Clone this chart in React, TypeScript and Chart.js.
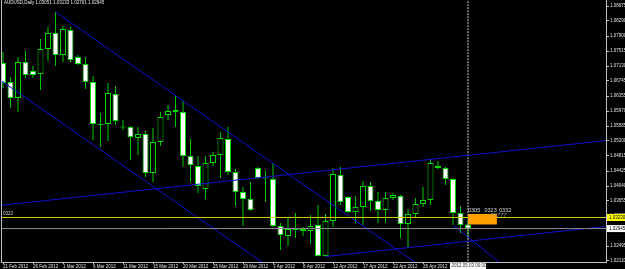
import React, { useEffect, useRef } from 'react';
import { Chart, registerables } from 'chart.js';

Chart.register(...registerables);

// ---------- data ----------
const titleText = 'AUDUSD,Daily 1.03051 1.03133 1.02701 1.02945';

const opens = [1.07208, 1.06718, 1.06306, 1.07233, 1.07002, 1.06924, 1.07568, 1.07980, 1.07413, 1.08057,
  1.07362, 1.07182, 1.06718, 1.05637, 1.05637, 1.06409, 1.05573, 1.05560, 1.05277, 1.05380,
  1.04376, 1.05174, 1.05869, 1.05997, 1.05946, 1.04813, 1.04556, 1.03964, 1.04633, 1.04839,
  1.05251, 1.04401, 1.03886, 1.03706, 1.04504, 1.04260, 1.04221, 1.03011, 1.02754, 1.02908,
  1.02934, 1.02882, 1.03037, 1.02239, 1.03140, 1.04324, 1.03758, 1.03372, 1.03500, 1.04041,
  1.03655, 1.03423, 1.03732, 1.03783, 1.03063, 1.03320, 1.03577, 1.03680, 1.04556, 1.04504,
  1.04221, 1.03346, 1.03051];
const highs = [1.07491, 1.06847, 1.07362, 1.07516, 1.07130, 1.07825, 1.08134, 1.08521, 1.08160, 1.08134,
  1.07413, 1.07362, 1.06873, 1.05920, 1.06693, 1.06615, 1.05740, 1.05586, 1.05560, 1.05457,
  1.05534, 1.05946, 1.06126, 1.06358, 1.06229, 1.05251, 1.04813, 1.04813, 1.04916, 1.05431,
  1.05560, 1.04479, 1.04015, 1.04144, 1.04530, 1.04427, 1.04633, 1.03088, 1.03217, 1.03346,
  1.02985, 1.03294, 1.03552, 1.03320, 1.04504, 1.04530, 1.03783, 1.03783, 1.04170, 1.04144,
  1.03886, 1.03886, 1.03861, 1.03809, 1.03449, 1.03732, 1.04015, 1.04736, 1.04685, 1.04530,
  1.04247, 1.03526, 1.03133];
const lows = [1.06564, 1.06049, 1.05946, 1.06821, 1.06821, 1.06512, 1.07259, 1.07130, 1.07233, 1.07233,
  1.07156, 1.06538, 1.05225, 1.05045, 1.05199, 1.05611, 1.05483, 1.04710, 1.04839, 1.04273,
  1.04144, 1.05071, 1.05740, 1.05560, 1.04530, 1.04144, 1.03861, 1.03706, 1.04556, 1.04247,
  1.04324, 1.03526, 1.03011, 1.03397, 1.04221, 1.03629, 1.02985, 1.02393, 1.02496, 1.02702,
  1.02754, 1.02548, 1.02226, 1.02226, 1.02985, 1.03552, 1.03346, 1.03088, 1.03037, 1.03397,
  1.03088, 1.03088, 1.03680, 1.02702, 1.02445, 1.03217, 1.03500, 1.03552, 1.04479, 1.04067,
  1.03037, 1.02831, 1.02701];
const closes = [1.06693, 1.06306, 1.07233, 1.06899, 1.06899, 1.07568, 1.07980, 1.07413, 1.08083, 1.07285,
  1.07182, 1.06718, 1.05637, 1.05611, 1.06435, 1.05714, 1.05547, 1.05302, 1.05380, 1.04376,
  1.05174, 1.05817, 1.05972, 1.05946, 1.04813, 1.04582, 1.04041, 1.04633, 1.04839, 1.05277,
  1.04401, 1.03886, 1.03706, 1.03423, 1.04247, 1.04234, 1.03011, 1.02779, 1.02934, 1.02960,
  1.02882, 1.03011, 1.02239, 1.03140, 1.04350, 1.03629, 1.03372, 1.03500, 1.04041, 1.03655,
  1.03423, 1.03732, 1.03809, 1.03063, 1.03320, 1.03577, 1.03680, 1.04633, 1.04504, 1.04221,
  1.03346, 1.03037, 1.02945];

const dateTickIndex = [0, 4, 8, 12, 16, 20, 24, 28, 32, 36, 40, 44, 48, 52, 56];
const dateTickLabels = ['21 Feb 2012', '26 Feb 2012', '1 Mar 2012', '6 Mar 2012', '11 Mar 2012', '15 Mar 2012',
  '20 Mar 2012', '25 Mar 2012', '29 Mar 2012', '3 Apr 2012', '8 Apr 2012', '12 Apr 2012', '17 Apr 2012',
  '22 Apr 2012', '26 Apr 2012'];
const priceTicks = [1.08675, 1.08290, 1.07900, 1.07515, 1.07130, 1.06745, 1.06355, 1.05970, 1.05585,
  1.05200, 1.04815, 1.04425, 1.04040, 1.03655, 1.03270, 1.02880, 1.02495, 1.02110];

const xMin = -0.2667;
const xMax = 80.4;
const yMin = 1.02084;
const yMax = 1.0883;

// trend lines (bar index, price)
const downChannelUpper = [{ x: 7, y: 1.08521 }, { x: 60, y: 1.01397 }];
const downChannelLower = [{ x: -2, y: 1.06987 }, { x: 40, y: 1.01343 }];
const upChannelUpper = [{ x: -2, y: 1.03508 }, { x: 84, y: 1.05284 }];
const upChannelLower = [{ x: 43, y: 1.02226 }, { x: 84, y: 1.03075 }];
const shortDownLine = [{ x: 60, y: 1.03037 }, { x: 68, y: 1.01796 }];

const levelPrice = 1.0323;
const levelText = '0323';
const levelAxisText = '1.03230';
const bidPrice = 1.02945;
const bidAxisText = '1.02945';

const cursorIndex = 62;
const cursorText = '2012.05.03 00:00';

const zoneStart = 62;
const zoneEnd = 65.85;
const zoneLow = 1.0305;
const zoneHigh = 1.0332;
const zoneTexts = ['0305', '0323', '0332'];
const zoneNoise = '77777';

const FONT = '"Liberation Sans", Arial, sans-serif';
const CANDLE_EDGE = '#00dc00';
const WICK = '#00c800';
const BLUE = '#1010d0';

export default function App() {
  const ref = useRef<HTMLCanvasElement>(null);

  useEffect(() => {
    document.body.style.margin = '0';
    document.body.style.background = '#000';
    document.body.style.overflow = 'hidden';
    const canvas = ref.current as HTMLCanvasElement;
    const idx = opens.map((_, i) => i);
    const bodies = idx.map((i) => ({ x: i, y: [opens[i], closes[i]] }));
    const wicks = idx.map((i) => ({ x: i, y: [lows[i], highs[i]] }));
    const bodyFill = idx.map((i) => (closes[i] >= opens[i] ? '#000000' : '#ffffff'));

    const lineDs = (data: any, color: string, dash: number[] = []) => ({
      type: 'line',
      data,
      borderColor: color,
      borderWidth: 1,
      borderDash: dash,
      pointRadius: 0,
      pointHoverRadius: 0,
      fill: false,
      tension: 0,
      order: 1,
    });

    const decor = {
      id: 'decor',
      beforeDraw(chart: any) {
        const c = chart.ctx;
        c.save();
        c.fillStyle = '#000';
        c.fillRect(0, 0, chart.width, chart.height);
        c.restore();
      },
      afterDatasetsDraw(chart: any) {
        const c = chart.ctx;
        const xs = chart.scales.x;
        const ys = chart.scales.y;
        const x0 = xs.getPixelForValue(zoneStart);
        const x1 = xs.getPixelForValue(zoneEnd);
        const yTop = ys.getPixelForValue(zoneHigh);
        const yBot = ys.getPixelForValue(zoneLow);
        c.save();
        c.fillStyle = '#ffa000';
        c.fillRect(x0, yTop, x1 - x0, yBot - yTop);
        c.font = `5.5px ${FONT}`;
        c.textBaseline = 'bottom';
        c.fillStyle = '#d8d8d8';
        const offs = [0, 16.5, 31];
        zoneTexts.forEach((t, k) => c.fillText(t, x0 + offs[k], yTop - 1));
        c.font = `italic 6px ${FONT}`;
        c.fillStyle = '#8a8a8a';
        c.fillText(zoneNoise, x0 + 22, yTop + 4);
        // level label on the left
        c.font = `4.5px ${FONT}`;
        c.fillStyle = '#d0d0d0';
        c.fillText(levelText, chart.chartArea.left + 2, ys.getPixelForValue(levelPrice) - 1);
        c.restore();
      },
      afterDraw(chart: any) {
        const c = chart.ctx;
        const xs = chart.scales.x;
        const ys = chart.scales.y;
        const a = chart.chartArea;
        c.save();
        // left frame
        c.strokeStyle = '#c0c0c0';
        c.lineWidth = 1;
        c.beginPath();
        c.moveTo(a.left + 0.5, a.top);
        c.lineTo(a.left + 0.5, a.bottom);
        c.stroke();
        // title
        c.font = `4.5px ${FONT}`;
        c.textBaseline = 'top';
        c.fillStyle = '#e6e6e6';
        c.fillText(titleText, 4, 0.5);
        // axis boxes
        const box = (price: number, text: string, bg: string) => {
          const y = ys.getPixelForValue(price);
          c.fillStyle = bg;
          c.fillRect(a.right + 1, y - 3.5, 625 - a.right, 7);
          c.fillStyle = '#000';
          c.textBaseline = 'middle';
          c.font = `4.5px ${FONT}`;
          c.fillText(text, a.right + 3, y);
        };
        box(levelPrice, levelAxisText, '#ffff00');
        box(bidPrice, bidAxisText, '#ffffff');
        // cursor date label
        const cx = xs.getPixelForValue(cursorIndex);
        c.fillStyle = '#ffffff';
        c.fillRect(cx - 18, a.bottom + 1, 36, 7);
        c.fillStyle = '#303030';
        c.textBaseline = 'top';
        c.font = `4.5px ${FONT}`;
        c.fillText(cursorText, cx - 16.5, a.bottom + 2);
        c.restore();
      },
    };

    const chart = new Chart(canvas, {
      type: 'bar',
      data: {
        datasets: [
          lineDs([{ x: xMin - 5, y: levelPrice }, { x: xMax + 5, y: levelPrice }], '#d2d200'),
          lineDs([{ x: xMin - 5, y: bidPrice }, { x: xMax + 5, y: bidPrice }], '#8c8c8c'),
          lineDs(downChannelUpper, BLUE),
          lineDs(downChannelLower, BLUE),
          lineDs(upChannelUpper, BLUE),
          lineDs(upChannelLower, BLUE),
          lineDs(shortDownLine, BLUE),
          lineDs([{ x: cursorIndex, y: yMax + 1 }, { x: cursorIndex, y: yMin - 1 }], '#d0d0d0', [2, 1]),
          {
            type: 'bar',
            data: bodies,
            backgroundColor: bodyFill,
            borderColor: CANDLE_EDGE,
            borderWidth: 1,
            borderSkipped: false,
            barThickness: 6,
            grouped: false,
            inflateAmount: 0,
            order: 2,
          },
          {
            type: 'bar',
            data: wicks,
            backgroundColor: WICK,
            borderWidth: 0,
            barThickness: 1,
            grouped: false,
            inflateAmount: 0,
            order: 3,
          },
        ] as any,
      },
      options: {
        animation: false,
        responsive: false,
        devicePixelRatio: 1,
        events: [],
        layout: { padding: { left: 1, top: 0, right: 0, bottom: 0 } },
        plugins: { legend: { display: false }, tooltip: { enabled: false } },
        scales: {
          x: {
            type: 'linear',
            min: xMin,
            max: xMax,
            offset: false,
            grid: { display: true, drawOnChartArea: false, drawTicks: true, tickLength: 2, color: '#c0c0c0', offset: false },
            border: { display: true, color: '#c0c0c0', width: 1 },
            ticks: {
              autoSkip: false,
              maxRotation: 0,
              minRotation: 0,
              align: 'start',
              padding: 0,
              color: '#e0e0e0',
              font: { family: FONT, size: 4.5 },
              callback: (_v: any, i: number) => dateTickLabels[i] ?? '',
            },
            afterBuildTicks: (s: any) => {
              s.ticks = dateTickIndex.map((v) => ({ value: v }));
            },
            afterFit: (s: any) => {
              s.height = 7;
              s.paddingLeft = 0;
              s.paddingRight = 0;
              s.paddingTop = 0;
              s.paddingBottom = 0;
            },
          },
          y: {
            type: 'linear',
            position: 'right',
            min: yMin,
            max: yMax,
            beginAtZero: false,
            grid: { display: true, drawOnChartArea: false, drawTicks: true, tickLength: 3, color: '#c0c0c0' },
            border: { display: true, color: '#c0c0c0', width: 1 },
            ticks: {
              autoSkip: false,
              padding: 1,
              color: '#e0e0e0',
              font: { family: FONT, size: 4.5 },
              callback: (v: any) => Number(v).toFixed(5),
            },
            afterBuildTicks: (s: any) => {
              s.ticks = priceTicks.map((v) => ({ value: v }));
            },
            afterFit: (s: any) => {
              s.width = 19;
              s.paddingTop = 0;
              s.paddingBottom = 0;
              s.paddingLeft = 0;
              s.paddingRight = 0;
            },
          },
        },
      } as any,
      plugins: [decor],
    });

    return () => chart.destroy();
  }, []);

  return (
    <canvas
      ref={ref}
      width={625}
      height={269}
      style={{ display: 'block', width: '625px', height: '269px' }}
    />
  );
}
